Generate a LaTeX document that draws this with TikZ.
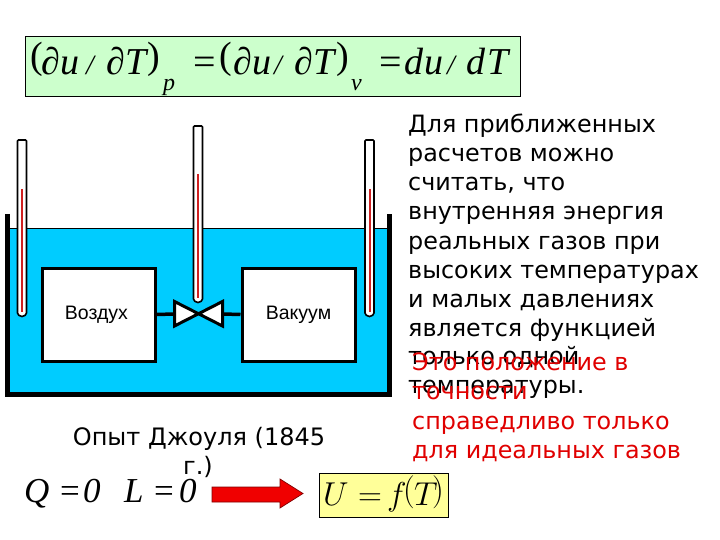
\documentclass[tikz,border=0pt]{standalone}
\usepackage{fontspec}
\setmainfont{DejaVu Sans}
\newfontfamily\arialf{Liberation Sans}
\newfontfamily\timesf{Liberation Serif}
\definecolor{water}{HTML}{00CCFF}
\definecolor{greenbg}{HTML}{CCFFCC}
\definecolor{yellowbg}{HTML}{FFFF99}
\definecolor{merc}{HTML}{D02020}
\definecolor{redtext}{HTML}{E00000}
\definecolor{arrowred}{HTML}{F00000}
\definecolor{arrowedge}{HTML}{800000}
\tikzset{
 chamber/.style={draw=black,line width=3pt,fill=white,minimum width=113pt,minimum height=93pt,inner sep=0pt,font=\arialf\fontsize{19.5}{22}\selectfont},
 pipe/.style={draw=black,line width=3.5pt},
 tube/.style={draw=black,line width=1.6pt,fill=white,rounded corners=1pt},
 mercury/.style={draw=merc,line width=2pt},
 body/.style={anchor=base west,inner sep=0pt,font=\fontsize{23.85}{29}\selectfont},
 redbody/.style={body,text=redtext},
 captext/.style={anchor=base,inner sep=0pt,font=\fontsize{24}{29}\selectfont},
 fm/.style={anchor=base west,inner sep=0pt,font=\timesf\itshape\fontsize{38}{40}\selectfont},
 fq/.style={anchor=base west,inner sep=0pt,font=\timesf\fontsize{38}{40}\selectfont},
 fslash/.style={anchor=base west,inner sep=0pt,font=\timesf\itshape\fontsize{28}{30}\selectfont},
 fs/.style={anchor=base west,inner sep=0pt,font=\timesf\itshape\fontsize{24}{26}\selectfont},
 fb/.style={anchor=base west,inner sep=0pt,font=\timesf\itshape\fontsize{35}{40}\selectfont},
 fy/.style={anchor=base west,inner sep=0pt,font=\fontsize{24.88}{30}\selectfont},
}
\begin{document}
\begin{tikzpicture}[x=1pt,y=-1pt]
\useasboundingbox (0,0) rectangle (720,540);
% formula box
\fill[greenbg] (25,37) rectangle (520,97);
\draw[black,line width=1pt] (25,37) rectangle (520,97);
\node[fq] (f1) at (30,69) {(};
\node[fm] (f2) at (41,75) {∂};
\node[fm] (f3) at (60,75) {u};
\node[fslash] (f4) at (86,75) {/};
\node[fm] (f5) at (106,75) {∂};
\node[fm] (f6) at (125,75) {T};
\node[fq] (f7) at (147,69) {)};
\node[fs] (f8) at (163,91) {p};
\node[fq] (f9) at (193,75) {\scalebox{1.05}[1]{=}};
\node[fq] (f10) at (219,69) {(};
\node[fm] (f11) at (233,75) {∂};
\node[fm] (f12) at (252,75) {u};
\node[fslash] (f13) at (274,75) {/};
\node[fm] (f14) at (294,75) {∂};
\node[fm] (f15) at (313,75) {T};
\node[fq] (f16) at (336,69) {)};
\node[fs] (f17) at (351,91) {v};
\node[fq] (f18) at (379,75) {\scalebox{1.05}[1]{=}};
\node[fm] (f19) at (404,75) {d};
\node[fm] (f20) at (424,75) {u};
\node[fslash] (f21) at (447,75) {/};
\node[fm] (f22) at (466,75) {d};
\node[fm] (f23) at (487,75) {T};
% water and vessel
\fill[water] (7,228) rectangle (390,394);
\draw[black,line width=.6pt] (7,228) -- (390,228);
\draw[black,line width=5pt,miter limit=10] (7.5,214) -- (7.5,394.5) -- (389.5,394.5) -- (389.5,214);
% thermometers
\draw[tube] (17.5,140) -- (26.5,140) -- (26.5,312) arc[start angle=0,end angle=180,radius=4.5] -- cycle;
\draw[mercury] (22,189) -- (22,312);
\draw[tube] (193.5,126) -- (202.5,126) -- (202.5,298) arc[start angle=0,end angle=180,radius=4.5] -- cycle;
\draw[mercury] (198,174) -- (198,298);
\draw[tube] (365,140) -- (374,140) -- (374,312) arc[start angle=0,end angle=180,radius=4.5] -- cycle;
\draw[mercury] (369.5,189) -- (369.5,312);
% chambers and valve
\node[chamber] (air) at (98.5,314.5) {\hspace*{-4pt}Воздух};
\node[chamber] (vac) at (298.5,314.5) {Вакуум};
\coordinate (vl) at (174,314);
\coordinate (vr) at (223,314);
\draw[pipe] (air.east) -- (vl);
\draw[pipe] (vac.west) -- (vr);
\draw[black,line width=3pt,fill=white,line join=miter] (174.5,301.5) -- (222.5,326) -- (222.5,301.5) -- (174.5,326) -- cycle;
% right text
\node[body] (t1) at (408,133) {Для приближенных};
\node[body] (t2) at (408,162) {расчетов можно};
\node[body] (t3) at (408,191) {считать, что};
\node[body] (t4) at (408,220) {внутренняя энергия};
\node[body] (t5) at (408,249) {реальных газов при};
\node[body] (t6) at (408,278) {высоких температурах};
\node[body] (t7) at (408,307) {и малых давлениях};
\node[body] (t8) at (408,336) {является функцией};
\node[body] (t9) at (408,364) {только одной};
\node[body] (t10) at (408,393) {температуры.};
\node[redbody] (r1) at (412,370) {Это положение в};
\node[redbody] (r2) at (412,399.5) {точности};
\node[redbody] (r3) at (412,429) {справедливо только};
\node[redbody] (r4) at (412,458) {для идеальных газов};
% caption
\node[captext] (c1) at (199,445) {Опыт Джоуля (1845};
\node[captext] (c2) at (198,474) {г.)};
% bottom
\node[fb] (q1) at (24,502) {Q};
\node[fb] (q2) at (60,502) {\upshape=};
\node[fb] (q3) at (83,502) {0};
\node[fb] (l1) at (124,502) {L};
\node[fb] (l2) at (154,502) {\upshape=};
\node[fb] (l3) at (179,502) {0};
\draw[fill=arrowred,draw=arrowedge,line width=.7pt,line join=miter] (212,487) -- (280,487) -- (280,479) -- (303,493.5) -- (280,508) -- (280,502) -- (212,502) -- cycle;
\fill[yellowbg] (319,473) rectangle (448,517);
\draw[black,line width=1pt] (319,473) rectangle (448,517);
\node[fy] (u1) at (323,505) {\scalebox{1.33}{$U$}};
\node[fy] (u2) at (358,505) {\scalebox{1.33}{$=$}};
\node[fy] (u3) at (387,505) {\scalebox{1.33}{$f$}};
\node[fy] (u4) at (403,500) {\scalebox{1.33}{$($}};
\node[fy] (u5) at (414,505) {\scalebox{1.33}{$T$}};
\node[fy] (u6) at (432,500) {\scalebox{1.33}{$)$}};
\end{tikzpicture}
\end{document}
